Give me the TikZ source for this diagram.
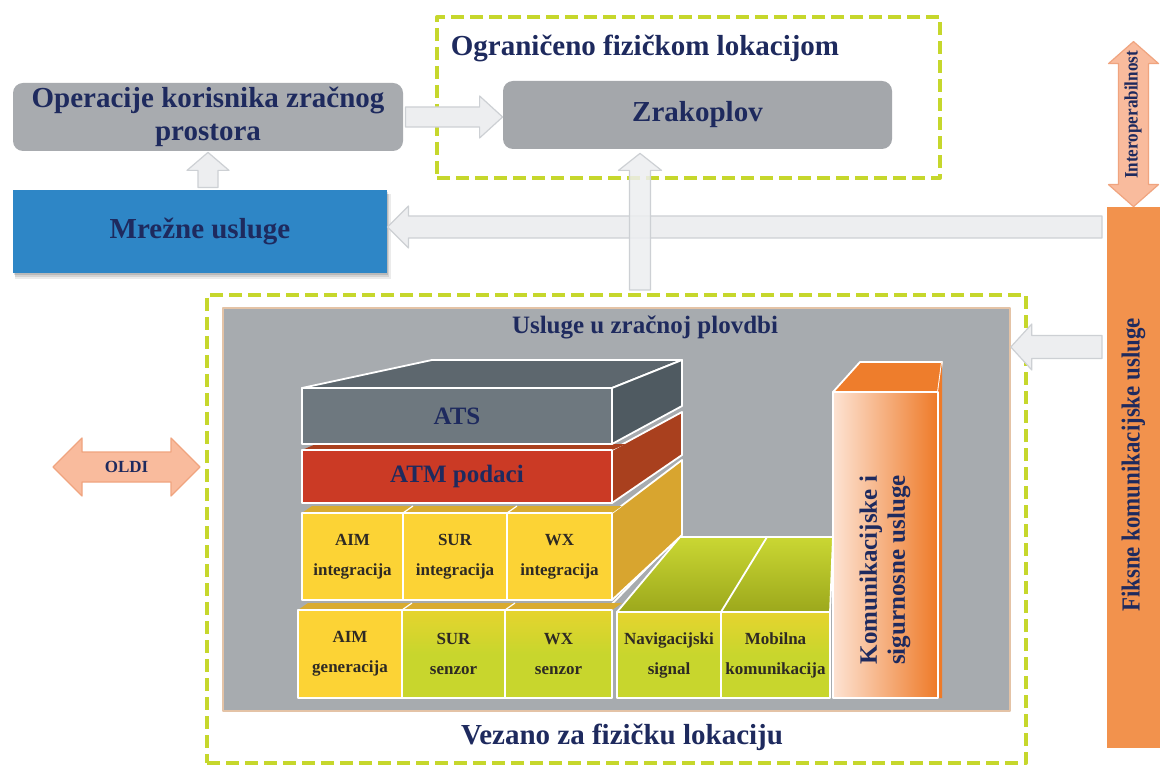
\documentclass[tikz,border=0pt]{standalone}
\usepackage{fontspec}
\setmainfont{Liberation Serif}
\usetikzlibrary{calc}
\definecolor{navy}{HTML}{1E2A5E}
\definecolor{celltxt}{HTML}{2E2A24}
\definecolor{arrfill}{HTML}{EDEEF0}
\definecolor{arrdraw}{HTML}{CDD0D4}
\definecolor{boxgray}{HTML}{A8ABAF}
\definecolor{zrgray}{HTML}{A4A7AB}
\definecolor{mrezblue}{HTML}{2E86C6}
\definecolor{dashcol}{HTML}{C6D72C}
\definecolor{panelgray}{HTML}{A7ABAF}
\definecolor{panelborder}{HTML}{E4C3A6}
\definecolor{atsfront}{HTML}{6E787F}
\definecolor{atstop}{HTML}{5D676E}
\definecolor{atsright}{HTML}{4F5A61}
\definecolor{atmfront}{HTML}{CB3A25}
\definecolor{atmright}{HTML}{A9401E}
\definecolor{intfront}{HTML}{FCD335}
\definecolor{intright}{HTML}{D8A52F}
\definecolor{inttop}{HTML}{D9AB30}
\definecolor{cellgreen}{HTML}{C8D62D}
\definecolor{cellgreenlt}{HTML}{E6D42E}
\definecolor{navtopdk}{HTML}{9CA81C}
\definecolor{navtoplt}{HTML}{CAD733}
\definecolor{komtop}{HTML}{EE7D2C}
\definecolor{komlt}{HTML}{FDE3D3}
\definecolor{komdk}{HTML}{EE7A28}
\definecolor{fiks}{HTML}{F2924D}
\definecolor{peach}{HTML}{F9BB9D}
\definecolor{peachdraw}{HTML}{F0A47F}

% block arrow: #1 style, #2 from, #3 to, #4 shaft half width, #5 head half width, #6 head length
\newcommand{\blkarrow}[6][]{%
  \coordinate (ba-c) at ($(#3)!#6!(#2)$);
  \path[#1] ($(#2)!#4!90:(#3)$) -- ($(ba-c)!#4!90:(#3)$) -- ($(ba-c)!#5!90:(#3)$)
    -- (#3) -- ($(ba-c)!#5!-90:(#3)$) -- ($(ba-c)!#4!-90:(#3)$) -- ($(#2)!#4!-90:(#3)$) -- cycle;
}
% double block arrow
\newcommand{\dblkarrow}[6][]{%
  \coordinate (da-a) at ($(#2)!#6!(#3)$);
  \coordinate (da-b) at ($(#3)!#6!(#2)$);
  \path[#1] (#2) -- ($(da-a)!#5!90:(#3)$) -- ($(da-a)!#4!90:(#3)$) -- ($(da-b)!#4!90:(#3)$)
    -- ($(da-b)!#5!90:(#3)$) -- (#3) -- ($(da-b)!#5!-90:(#3)$) -- ($(da-b)!#4!-90:(#3)$)
    -- ($(da-a)!#4!-90:(#3)$) -- ($(da-a)!#5!-90:(#3)$) -- cycle;
}

\begin{document}
\begin{tikzpicture}[x=0.5pt,y=-0.5pt, line join=round,
  big/.style={text=navy, font=\fontsize{14.5}{16.5}\selectfont\bfseries, align=center},
  mid/.style={text=navy, font=\fontsize{12.5}{14}\selectfont\bfseries, align=center},
  roundbox/.style={rounded corners=5pt, inner sep=0pt, draw=none},
  dashbox/.style={draw=dashcol, line width=2pt, dash pattern=on 6.5pt off 3pt, inner sep=0pt},
  grayarrow/.style={fill=arrfill, draw=arrdraw, line width=0.6pt},
  peacharrow/.style={fill=peach, draw=peachdraw, line width=0.6pt},
  cell/.style={draw=white, line width=0.9pt, inner sep=0pt, text=celltxt,
    font=\fontsize{8.5}{15}\selectfont\bfseries, align=center},
  face/.style={draw=white, line width=0.9pt},
]
\useasboundingbox (0,0) rectangle (1160,769);
\fill[white] (0,0) rectangle (1160,769);

% ---------- top dashed area ----------
\node[dashbox, minimum width=251.5pt, minimum height=80.5pt] (topbox) at (688.5,97.5) {};
\node[big] (toptitle) at (645,48) {Ograničeno fizičkom lokacijom};

% ---------- bottom dashed area ----------
\node[dashbox, minimum width=409.5pt, minimum height=234pt] (botbox) at (616.5,529) {};
\node[draw=panelborder, line width=0.8pt, fill=panelgray, minimum width=393.5pt,
  minimum height=201.5pt, inner sep=0pt] (panel) at (616.5,509.5) {};
\node[mid] (paneltitle) at (645,327) {Usluge u zračnoj plovdbi};
\node[big] (bottitle) at (622,737) {Vezano za fizičku lokaciju};

% ---------- boxes ----------
\node[roundbox, fill=boxgray, minimum width=195pt, minimum height=34pt, big] (op) at (208,117)
  {Operacije korisnika zračnog\\prostora};
\node[roundbox, fill=zrgray, minimum width=194.5pt, minimum height=34pt, big] (zr) at (697.5,115)
  {Zrakoplov};
% soft shadow of the network box
\fill[black, opacity=0.08] (15,194) rectangle (391,279);
\fill[black, opacity=0.10] (15,194) rectangle (389,277);
\fill[black, opacity=0.12] (14,192) rectangle (388,275);
\node[fill=mrezblue, minimum width=187pt, minimum height=41.5pt, inner sep=0pt, big] (mrez) at (200,231.5)
  {Mrežne usluge};
\node[fill=fiks, minimum width=26.5pt, minimum height=270.5pt, inner sep=0pt] (fix) at (1133.5,477.5) {};
\node[rotate=90, text=navy, font=\fontsize{13}{14}\selectfont\bfseries] (fixlbl) at (1133.5,465)
  {\scalebox{0.88}[1]{Fiksne komunikacijske usluge}};

% ---------- arrows ----------
\coordinate (opR) at ($(op.east)+(2,0)$);
\coordinate (zrL) at (zr.west |- op.east);
\blkarrow[grayarrow]{opR}{zrL}{5pt}{10.5pt}{11.5pt}

\coordinate (mrezT) at ($(mrez.north -| op.south)+(0,-2)$);
\coordinate (opB) at ($(op.south)+(0,1)$);
\blkarrow[grayarrow]{mrezT}{opB}{5pt}{10.5pt}{9pt}

\coordinate (fixA) at (1102,227);
\coordinate (mrezR) at (mrez.east |- fixA);
\blkarrow[grayarrow]{fixA}{mrezR}{5.5pt}{10.5pt}{10.5pt}

\coordinate (panelUp) at (640,290);
\coordinate (zrB) at ($(zr.south -| panelUp)+(0,4)$);
\blkarrow[grayarrow, fill opacity=0.85]{panelUp}{zrB}{5.25pt}{10.75pt}{8.5pt}

\coordinate (fixB) at (1102,347);
\coordinate (panelR) at (panel.east |- fixB);
\blkarrow[grayarrow]{fixB}{panelR}{5.75pt}{11.5pt}{10.5pt}

\coordinate (oldiL) at (53,467);
\coordinate (oldiR) at (200,467);
\dblkarrow[peacharrow]{oldiL}{oldiR}{7.5pt}{14.5pt}{14.5pt}
\node[text=navy, font=\fontsize{8.5}{10}\selectfont\bfseries] (oldi) at (126.5,467) {OLDI};

\coordinate (interB) at (fix.north);
\coordinate (interT) at ($(fix.north)+(0,-165)$);
\dblkarrow[peacharrow]{interT}{interB}{7.5pt}{12.5pt}{11pt}
\node[rotate=90, text=navy, font=\fontsize{9.5}{10}\selectfont\bfseries] (inter) at (1133,115)
  {\scalebox{0.9}[1]{Interoperabilnost}};

% ---------- 3D stack ----------
% Navigation/mobile top face
\shade[shading=axis, shading angle=135, top color=navtoplt, bottom color=navtopdk, face]
  (617,612) -- (680,537) -- (833,537) -- (830,612) -- cycle;
\draw[white, line width=0.9pt] (721,612) -- (767,537);
\draw[white, line width=0.9pt] (612,604) -- (677,537);

% generation row top strip
\fill[inttop] (298,610) -- (308,603) -- (622,603) -- (612,610) -- cycle;
\draw[white, line width=0.6pt] (402,610) -- (412,603) (505,610) -- (515,603);

% integration row right face and top strip
\fill[intright, face] (612,513) -- (682,460) -- (682,535) -- (612,600) -- cycle;
\fill[inttop] (302,513) -- (312,506) -- (622,506) -- (612,513) -- cycle;
\draw[white, line width=0.6pt] (403,513) -- (413,506) (507,513) -- (517,506);

% ATM
\fill[atmright, face] (612,450) -- (682,412) -- (682,455) -- (612,503) -- cycle;
\fill[atmright] (302,450) -- (316,444) -- (626,444) -- (612,450) -- cycle;
\node[fill=atmfront, draw=white, line width=0.9pt, minimum width=155pt, minimum height=26.5pt,
  inner sep=0pt, mid] (atm) at (457,476.5) {ATM podaci};

% ATS
\fill[atstop, face] (302,388) -- (432,360) -- (682,360) -- (612,388) -- cycle;
\fill[atsright, face] (612,388) -- (682,360) -- (682,406) -- (612,444) -- cycle;
\node[fill=atsfront, draw=white, line width=0.9pt, minimum width=155pt, minimum height=28pt,
  inner sep=0pt, mid] (ats) at (457,416) {ATS};

% integration cells
\node[cell, fill=intfront, minimum width=50.5pt, minimum height=43.5pt] (aimint) at (352.5,556.5) {AIM\\integracija};
\node[cell, fill=intfront, minimum width=52pt, minimum height=43.5pt] (surint) at (455,556.5) {SUR\\integracija};
\node[cell, fill=intfront, minimum width=52.5pt, minimum height=43.5pt] (wxint) at (559.5,556.5) {WX\\integracija};

% generation / sensor cells
\node[cell, fill=intfront, minimum width=52pt, minimum height=44pt] (aimgen) at (350,654) {AIM\\generacija};
\node[cell, top color=cellgreenlt, bottom color=cellgreen, middle color=cellgreen, minimum width=51.5pt, minimum height=44pt] (sursen) at (453.5,654) {SUR\\senzor};
\node[cell, top color=cellgreenlt, bottom color=cellgreen, middle color=cellgreen, minimum width=53.5pt, minimum height=44pt] (wxsen) at (558.5,654) {WX\\senzor};
\node[cell, top color=cellgreenlt, bottom color=cellgreen, middle color=cellgreen, minimum width=52pt, minimum height=43pt] (nav) at (669,655) {Navigacijski\\signal};
\node[cell, top color=cellgreenlt, bottom color=cellgreen, middle color=cellgreen, minimum width=54.5pt, minimum height=43pt] (mob) at (775.5,655) {Mobilna\\komunikacija};

% communication & safety column
\fill[komtop, face] (833,392) -- (860,362) -- (942,362) -- (938,392) -- cycle;
\fill[komdk] (938,392) -- (942,362) -- (942,698) -- (938,698) -- cycle;
\node[left color=komlt, right color=komdk, draw=white, line width=0.9pt, minimum width=52.5pt,
  minimum height=153pt, inner sep=0pt] (kom) at (885.5,545) {};
\node[rotate=90, text=navy, font=\fontsize{12.5}{14}\selectfont\bfseries, align=center] (komlbl) at (885,570)
  {Komunikacijske i\\sigurnosne usluge};
\end{tikzpicture}
\end{document}
